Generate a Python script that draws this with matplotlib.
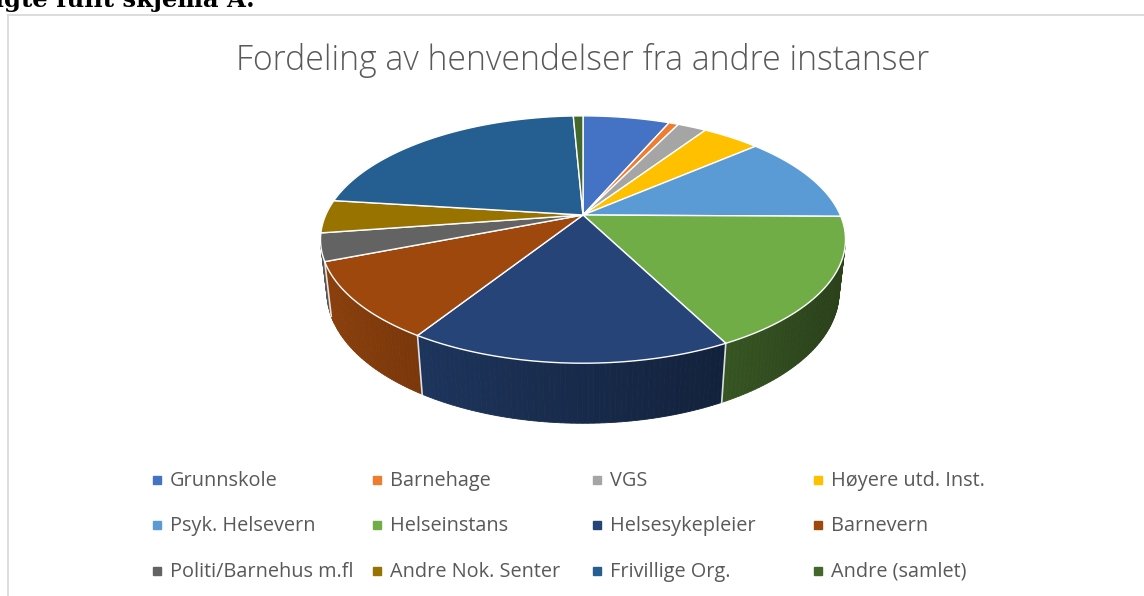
import numpy as np
import matplotlib.pyplot as plt
from matplotlib.patches import Polygon
from matplotlib.colors import to_rgb

# data (share of each slice)
categories = ["Grunnskole", "Barnehage", "VGS", "Høyere utd. Inst.",
              "Psyk. Helsevern", "Helseinstans", "Helsesykepleier", "Barnevern",
              "Politi/Barnehus m.fl", "Andre Nok. Senter", "Frivillige Org.", "Andre (samlet)"]
values = [9, 1, 3, 6, 16, 24, 23, 14, 5, 6, 31, 1]
colors = ["#4472C4", "#ED7D31", "#A5A5A5", "#FFC000",
          "#5B9BD5", "#70AD47", "#264478", "#9E480E",
          "#636363", "#997300", "#255E91", "#43682B"]
title = "Fordeling av henvendelser fra andre instanser"
header = "valgte fullt skjema A:"

# perspective view of the pie (Excel 3D pie look)
CX, CY = 583, 215
F = 1150.0
D = 4.47
elev = np.radians(27.5)
se, ce = np.sin(elev), np.cos(elev)
H = 0.233
y_vis = -1.0 / (D * ce)   # wall faces the viewer below this


def proj(X, Y, Z=0.0):
    v = Z * ce + Y * se
    w = D + Y * ce - Z * se
    return CX + F * X / w, CY - F * v / w


fig = plt.figure(figsize=(11.44, 5.96), dpi=100)
ax = fig.add_axes([0, 0, 1, 1])
ax.set_xlim(0, 1144)
ax.set_ylim(596, 0)
ax.axis('off')

vals = np.array(values, dtype=float)
edges = np.concatenate([[0], np.cumsum(vals) / vals.sum() * 2 * np.pi])

# side walls, drawn back to front
quads = []
for i in range(len(vals)):
    t0, t1 = edges[i], edges[i + 1]
    n = max(2, int(np.degrees(t1 - t0)) + 1)
    ts = np.linspace(t0, t1, n)
    base = np.array(to_rgb(colors[i]))
    for a, b in zip(ts[:-1], ts[1:]):
        xa, ya = np.sin(a), np.cos(a)
        xb, yb = np.sin(b), np.cos(b)
        if (ya + yb) / 2 > y_vis + 0.05:
            continue
        xm = (xa + xb) / 2
        f = np.clip(0.62 - 0.28 * xm, 0.38, 0.9)
        pts = [proj(xa, ya, 0), proj(xb, yb, 0), proj(xb, yb, -H), proj(xa, ya, -H)]
        quads.append(((ya + yb) / 2, pts, base * f))
quads.sort(key=lambda q: -q[0])
for _, pts, col in quads:
    ax.add_patch(Polygon(pts, closed=True, facecolor=col, edgecolor=col, lw=0.6))

for t in edges[:-1]:
    X, Y = np.sin(t), np.cos(t)
    if Y < y_vis:
        p0, p1 = proj(X, Y, 0), proj(X, Y, -H)
        ax.plot([p0[0], p1[0]], [p0[1], p1[1]], color='white', lw=1.2, alpha=0.85)

# top faces
for i in range(len(vals)):
    ts = np.linspace(edges[i], edges[i + 1], max(2, int(np.degrees(edges[i + 1] - edges[i]) * 2) + 2))
    pts = [proj(0, 0, 0)] + [proj(np.sin(t), np.cos(t), 0) for t in ts]
    ax.add_patch(Polygon(pts, closed=True, facecolor=colors[i], edgecolor='white', lw=1.0))

ax.text(583, 60, title, ha='center', va='center', fontsize=24.3, color='#595959',
        family='Open Sans', weight='light')

# legend, 4 columns x 3 rows
col_x = [157, 377, 597, 818]
row_y = [480, 525, 571]
for i, name in enumerate(categories):
    x = col_x[i % 4]
    y = row_y[i // 4]
    ax.plot(x, y, marker='s', ms=5.5, color=colors[i], mec=colors[i])
    ax.text(x + 13, y + 1, name, ha='left', va='center', fontsize=14.3, color='#595959',
            family='Open Sans')

# chart frame and text above it
ax.plot([8, 8], [596, 15], color='#d9d9d9', lw=1.3)
ax.plot([8, 1144], [15, 15], color='#d9d9d9', lw=1.3)
ax.text(255, 7.5, header, ha='right', va='baseline', fontsize=17.5, weight='bold',
        family='DejaVu Serif', color='black')

fig.savefig('out.png', dpi=100)
